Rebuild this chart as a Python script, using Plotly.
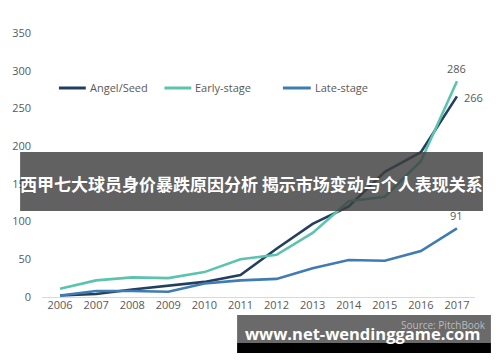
import plotly.graph_objects as go

years = [2006, 2007, 2008, 2009, 2010, 2011, 2012, 2013, 2014, 2015, 2016, 2017]
angel_seed = [2, 4, 10, 15, 20, 29, 64, 97, 120, 166, 192, 266]
early_stage = [11, 22, 26, 25, 33, 50, 56, 85, 127, 133, 180, 286]
late_stage = [2, 8, 8, 7, 18, 22, 24, 38, 49, 48, 61, 91]

series_names = ["Angel/Seed", "Early-stage", "Late-stage"]
series_values = [angel_seed, early_stage, late_stage]
series_colors = ["#233f5f", "#5cc4ad", "#3e7cb1"]

y_ticks = [0, 50, 100, 150, 200, 250, 300, 350]
banner_text = "西甲七大球员身价暴跌原因分析 揭示市场变动与个人表现关系"
site_text = "www.net-wendinggame.com"

W, H = 500, 362
ML, MR, MT, MB = 40, 25, 25, 65
font_family = "Open Sans, Noto Sans, DejaVu Sans, sans-serif"
cjk_family = "Noto Sans CJK SC, sans-serif"

fig = go.Figure()
for name, vals, col in zip(series_names, series_values, series_colors):
    fig.add_trace(go.Scatter(x=years, y=vals, mode="lines", name=name,
                             line=dict(color=col, width=2.6), cliponaxis=False,
                             showlegend=False))

# end labels: (xshift, yshift, xanchor, yanchor)
end_style = {"Angel/Seed": (5, -1, "left", "middle"),
             "Early-stage": (0, 3, "center", "bottom"),
             "Late-stage": (0, 3, "center", "bottom")}
annotations = []
for name, vals in zip(series_names, series_values):
    dx, dy, xa, ya = end_style[name]
    annotations.append(dict(x=years[-1], y=vals[-1], xref="x", yref="y",
                            text=str(vals[-1]), showarrow=False,
                            xshift=dx, yshift=dy, xanchor=xa, yanchor=ya,
                            font=dict(family=font_family, size=11, color="#595959")))

# manual legend (pixel coordinates -> paper)
def px_x(px):
    return (px - ML) / (W - ML - MR)

def px_y(py):
    return (H - MB - py) / (H - MT - MB)

shapes = []
legend_pos = [(57, 84), (163, 190), (282, 310)]
for (x0, x1), name, col in zip(legend_pos, series_names, series_colors):
    shapes.append(dict(type="line", xref="paper", yref="paper",
                       x0=px_x(x0), x1=px_x(x1), y0=px_y(88), y1=px_y(88),
                       line=dict(color=col, width=3)))
    annotations.append(dict(x=px_x(x1 + 2), y=px_y(88), xref="paper", yref="paper",
                            text=name, showarrow=False, xanchor="left", yanchor="middle",
                            font=dict(family=font_family, size=11, color="#595959")))

# banner overlay
shapes.append(dict(type="rect", xref="paper", yref="paper",
                   x0=px_x(18), x1=px_x(483), y0=px_y(211), y1=px_y(152),
                   fillcolor="rgba(62,62,62,0.82)", line=dict(width=0), layer="above"))
annotations.append(dict(x=px_x(250), y=px_y(184), xref="paper", yref="paper",
                        text="<b>" + banner_text + "</b>", showarrow=False,
                        xanchor="center", yanchor="middle",
                        font=dict(family=cjk_family, size=17, color="white")))

# faint source text (behind the site bar, as in the reference)
annotations.append(dict(x=px_x(488), y=px_y(334), xref="paper", yref="paper",
                        text="Source: PitchBook", showarrow=False, xanchor="right",
                        font=dict(family=font_family, size=10, color="#bbbbbb")))

# bottom site bar
shapes.append(dict(type="rect", xref="paper", yref="paper",
                   x0=px_x(236), x1=px_x(491), y0=px_y(343), y1=px_y(315),
                   fillcolor="rgba(95,95,95,0.93)", line=dict(width=0), layer="above"))
shapes.append(dict(type="rect", xref="paper", yref="paper",
                   x0=px_x(236), x1=px_x(491), y0=px_y(353), y1=px_y(343),
                   fillcolor="#000000", line=dict(width=0), layer="above"))
annotations.append(dict(x=px_x(362), y=px_y(333), xref="paper", yref="paper",
                        text="<b>" + site_text + "</b>", showarrow=False,
                        xanchor="center", yanchor="middle",
                        font=dict(family="Open Sans, DejaVu Sans, sans-serif", size=16.5, color="white")))

fig.update_layout(
    width=W, height=H,
    margin=dict(l=ML, r=MR, t=MT, b=MB),
    paper_bgcolor="white", plot_bgcolor="white",
    showlegend=False,
    shapes=shapes, annotations=annotations,
    xaxis=dict(range=[2005.5, 2017.5], tickmode="array", tickvals=years,
               ticktext=[str(y) for y in years], showgrid=False, zeroline=False,
               showline=False, ticks="", fixedrange=True,
               tickfont=dict(family=font_family, size=11, color="#595959")),
    yaxis=dict(range=[0, 360.6], tickmode="array", tickvals=y_ticks,
               showgrid=False, zeroline=True, zerolinecolor="#d9d9d9", zerolinewidth=1,
               showline=False, ticks="", ticklabelstandoff=10,
               tickfont=dict(family=font_family, size=11, color="#595959")),
)

fig.write_html("out.html")
